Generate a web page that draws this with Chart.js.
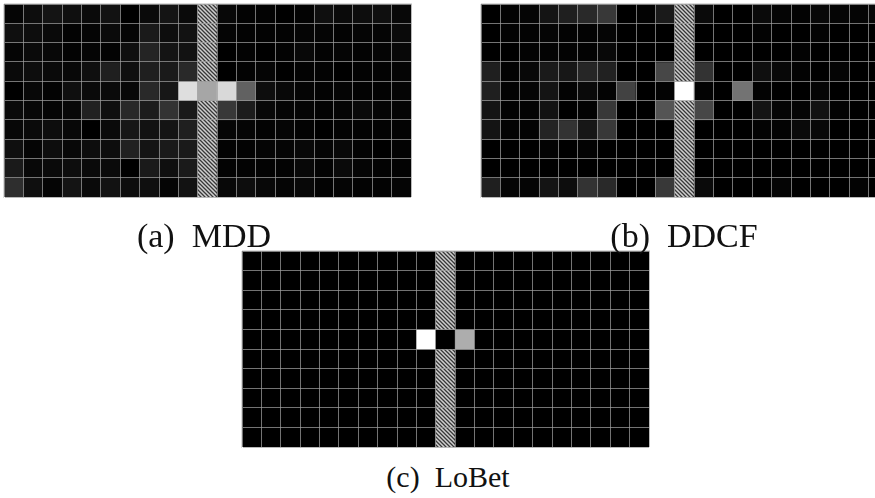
<!DOCTYPE html>
<html>
<head>
<meta charset="utf-8">
<script src="https://cdn.jsdelivr.net/npm/chart.js@4.4.1/dist/chart.umd.min.js"></script>
<style>
  html, body { margin: 0; padding: 0; background: #fff; width: 875px; height: 498px; overflow: hidden; position: relative; }
  .panel { position: absolute; }
  .cap { position: absolute; font-family: "Liberation Serif", "Times New Roman", serif; font-size: 30px; color: #111; white-space: pre; transform: translateX(-50%); line-height: 1; }
  .cap.big { font-size: 34px; }
</style>
</head>
<body>
<canvas id="mdd" class="panel" width="409" height="195" style="left:3px;top:3px"></canvas>
<canvas id="ddcf" class="panel" width="409" height="195" style="left:480px;top:3px"></canvas>
<canvas id="lobet" class="panel" width="409" height="198" style="left:241px;top:250px"></canvas>
<div class="cap big" style="left:204px;top:219px">(a)  MDD</div>
<div class="cap big" style="left:684px;top:219px">(b)  DDCF</div>
<div class="cap" style="left:448px;top:462px">(c)  LoBet</div>
<script>
// 21 positions across, 10 rows down; column 10 is the masked column (null = masked cell)
const columns = Array.from({ length: 21 }, (_, i) => String(i));
const rows = [0, 1, 2, 3, 4, 5, 6, 7, 8, 9];

const mddValues = [
  [0.02,0.05,0.08,0.06,0.04,0.07,0.00,0.04,0.08,0.04,null,0.03,0.01,0.01,0.00,0.01,0.06,0.04,0.05,0.06,0.03],
  [0.06,0.05,0.04,0.01,0.02,0.04,0.02,0.10,0.05,0.07,null,0.02,0.01,0.01,0.01,0.02,0.02,0.01,0.02,0.02,0.04],
  [0.02,0.04,0.03,0.01,0.02,0.01,0.06,0.14,0.08,0.07,null,0.00,0.01,0.00,0.01,0.03,0.01,0.02,0.01,0.02,0.03],
  [0.04,0.05,0.04,0.03,0.06,0.12,0.06,0.12,0.10,0.16,null,0.00,0.01,0.02,0.00,0.01,0.01,0.00,0.01,0.01,0.02],
  [0.00,0.03,0.01,0.06,0.04,0.04,0.03,0.16,0.09,0.87,0.65,0.85,0.38,0.05,0.03,0.02,0.01,0.02,0.01,0.01,0.02],
  [0.04,0.03,0.02,0.03,0.13,0.06,0.16,0.11,0.20,0.10,null,0.22,0.11,0.03,0.02,0.02,0.01,0.02,0.04,0.02,0.02],
  [0.03,0.04,0.05,0.03,0.00,0.04,0.09,0.07,0.08,0.12,null,0.02,0.02,0.01,0.02,0.01,0.00,0.01,0.01,0.01,0.01],
  [0.06,0.02,0.05,0.03,0.05,0.05,0.13,0.08,0.10,0.10,null,0.01,0.01,0.02,0.02,0.03,0.02,0.03,0.01,0.00,0.01],
  [0.10,0.03,0.04,0.05,0.04,0.04,0.00,0.10,0.06,0.10,null,0.01,0.01,0.01,0.01,0.03,0.01,0.04,0.02,0.01,0.01],
  [0.18,0.06,0.02,0.08,0.04,0.07,0.05,0.06,0.02,0.07,null,0.03,0.05,0.03,0.02,0.03,0.01,0.02,0.01,0.01,0.02]
];

const ddcfValues = [
  [0.00,0.01,0.02,0.08,0.12,0.16,0.22,0.00,0.01,0.10,null,0.04,0.00,0.00,0.04,0.02,0.01,0.03,0.02,0.02,0.03],
  [0.00,0.01,0.01,0.02,0.01,0.01,0.02,0.00,0.00,0.00,null,0.00,0.00,0.00,0.01,0.00,0.00,0.01,0.00,0.00,0.00],
  [0.00,0.00,0.01,0.01,0.01,0.01,0.03,0.00,0.00,0.00,null,0.00,0.00,0.00,0.00,0.00,0.01,0.00,0.00,0.00,0.00],
  [0.12,0.01,0.03,0.10,0.09,0.15,0.13,0.00,0.00,0.28,null,0.20,0.00,0.00,0.06,0.03,0.01,0.00,0.02,0.00,0.00],
  [0.12,0.01,0.02,0.08,0.01,0.04,0.01,0.26,0.00,0.01,1.00,0.01,0.00,0.45,0.01,0.00,0.00,0.02,0.00,0.00,0.00],
  [0.08,0.01,0.01,0.07,0.00,0.01,0.22,0.00,0.00,0.33,null,0.28,0.00,0.00,0.08,0.02,0.02,0.07,0.01,0.00,0.00],
  [0.08,0.01,0.01,0.14,0.20,0.09,0.22,0.00,0.00,0.00,null,0.00,0.00,0.00,0.01,0.01,0.04,0.03,0.00,0.00,0.00],
  [0.00,0.00,0.00,0.01,0.00,0.01,0.00,0.00,0.00,0.00,null,0.00,0.00,0.00,0.00,0.00,0.00,0.00,0.00,0.00,0.00],
  [0.00,0.00,0.00,0.00,0.00,0.00,0.00,0.00,0.00,0.00,null,0.00,0.00,0.00,0.00,0.00,0.00,0.00,0.00,0.00,0.00],
  [0.12,0.02,0.02,0.08,0.05,0.20,0.16,0.00,0.00,0.22,null,0.04,0.00,0.00,0.00,0.02,0.00,0.00,0.00,0.01,0.00]
];

const lobetValues = [
  [0,0,0,0,0,0,0,0,0,0,null,0,0,0,0,0,0,0,0,0,0],
  [0,0,0,0,0,0,0,0,0,0,null,0,0,0,0,0,0,0,0,0,0],
  [0,0,0,0,0,0,0,0,0,0,null,0,0,0,0,0,0,0,0,0,0],
  [0,0,0,0,0,0,0,0,0,0,null,0,0,0,0,0,0,0,0,0,0],
  [0,0,0,0,0,0,0,0,0,1.00,0.00,0.68,0,0,0,0,0,0,0,0,0],
  [0,0,0,0,0,0,0,0,0,0,null,0,0,0,0,0,0,0,0,0,0],
  [0,0,0,0,0,0,0,0,0,0,null,0,0,0,0,0,0,0,0,0,0],
  [0,0,0,0,0,0,0,0,0,0,null,0,0,0,0,0,0,0,0,0,0],
  [0,0,0,0,0,0,0,0,0,0,null,0,0,0,0,0,0,0,0,0,0],
  [0,0,0,0,0,0,0,0,0,0,null,0,0,0,0,0,0,0,0,0,0]
];

// Diagonal hatch used for masked cells
function makeHatch() {
  const c = document.createElement('canvas');
  c.width = 4; c.height = 4;
  const g = c.getContext('2d');
  g.fillStyle = '#cfcfcf';
  g.fillRect(0, 0, 4, 4);
  g.strokeStyle = '#383838';
  g.lineWidth = 1.3;
  g.beginPath();
  g.moveTo(-1, -1); g.lineTo(5, 5);
  g.moveTo(-1, 3); g.lineTo(1, 5);
  g.moveTo(3, -1); g.lineTo(5, 1);
  g.stroke();
  return g.createPattern(c, 'repeat');
}

function grey(v) {
  const k = Math.round(Math.max(0, Math.min(1, v)) * 255);
  return `rgb(${k},${k},${k})`;
}

const lineColor = 'rgba(160,160,160,0.72)';

function drawHeatmap(id, values) {
  const hatch = makeHatch();
  const datasets = rows.map(r => ({
    label: 'row ' + r,
    data: columns.map(() => [r, r + 1]),
    backgroundColor: values[r].map(v => (v === null ? hatch : grey(v))),
    borderWidth: 0,
    barPercentage: 1,
    categoryPercentage: 1,
    grouped: false
  }));
  new Chart(document.getElementById(id), {
    type: 'bar',
    data: { labels: columns, datasets },
    options: {
      responsive: false,
      animation: false,
      devicePixelRatio: 1,
      layout: { padding: 1 },
      plugins: { legend: { display: false }, tooltip: { enabled: false }, title: { display: false } },
      scales: {
        x: {
          offset: true,
          ticks: { display: false },
          grid: { offset: true, color: lineColor, lineWidth: 1, drawTicks: false, z: 1 },
          border: { display: true, color: lineColor }
        },
        y: {
          min: 0, max: 10, reverse: true,
          ticks: { display: false, stepSize: 1 },
          grid: { color: lineColor, lineWidth: 1, drawTicks: false, z: 1 },
          border: { display: true, color: lineColor }
        }
      }
    }
  });
}

drawHeatmap('mdd', mddValues);
drawHeatmap('ddcf', ddcfValues);
drawHeatmap('lobet', lobetValues);
</script>
</body>
</html>
